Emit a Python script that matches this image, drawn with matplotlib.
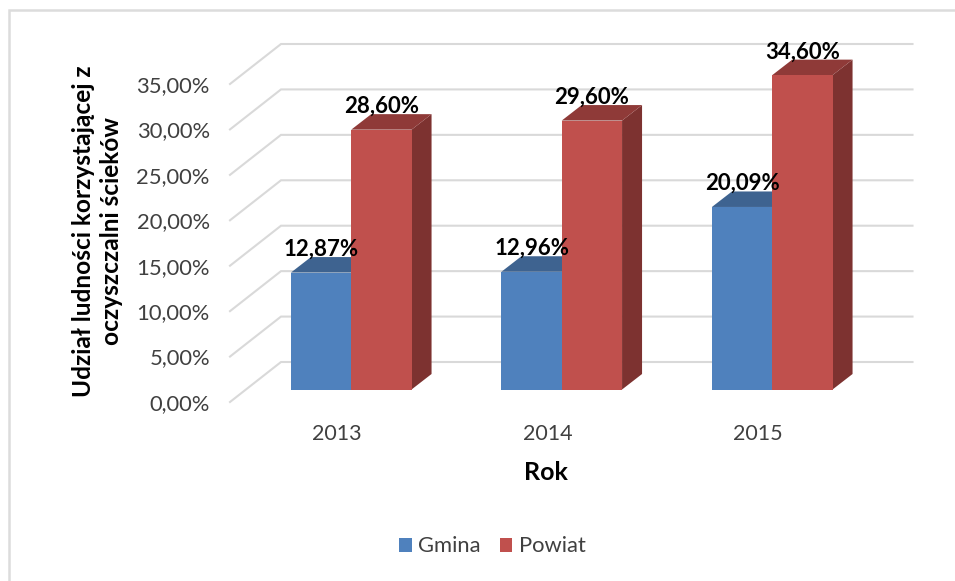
import matplotlib
matplotlib.use("Agg")
import matplotlib.pyplot as plt
from matplotlib.lines import Line2D
from matplotlib.patches import Polygon, Patch
from matplotlib.transforms import ScaledTranslation

years = ["2013", "2014", "2015"]
gmina = [12.87, 12.96, 20.09]
powiat = [28.60, 29.60, 34.60]
gmina_labels = ["12,87%", "12,96%", "20,09%"]
powiat_labels = ["28,60%", "29,60%", "34,60%"]
y_ticks = [0, 5, 10, 15, 20, 25, 30, 35]
y_tick_labels = ["0,00%", "5,00%", "10,00%", "15,00%", "20,00%", "25,00%", "30,00%", "35,00%"]

W, H = 955, 581
plt.rcParams["font.family"] = ["Lato", "DejaVu Sans"]
fig = plt.figure(figsize=(W / 100, H / 100), dpi=100, facecolor="white")

# axes = front plane of the 3D box (pixels)
L, R, B, T = 230.0, 861.5, 402.0, 84.0
ax = fig.add_axes([L / W, 1 - B / H, (R - L) / W, (B - T) / H])
ax.set_xlim(-0.5, 2.5)
ax.set_ylim(0, 35)
ax.patch.set_alpha(0)
for s in ax.spines.values():
    s.set_visible(False)

px_x = 3 / (R - L)      # data units per pixel
px_y = 35 / (B - T)

GRID = "#D9D9D9"
wall_dx, wall_dy = 51 * px_x, 40 * px_y
plane_dx, plane_dy = 16 * px_x, 12.5 * px_y
depth_dx, depth_dy = 20 * px_x, 15.5 * px_y
bar_w = 60.3 * px_x

# walls
for v in y_ticks:
    ax.plot([-0.5, -0.5 + wall_dx, 2.5 + wall_dx], [v, v + wall_dy, v + wall_dy],
            color=GRID, lw=1.5, clip_on=False, zorder=1, solid_joinstyle="miter")


def draw_bars(vals, offset, face, top, side, z):
    xs = [i + offset + plane_dx for i in range(len(vals))]
    ax.bar(xs, vals, width=bar_w, bottom=plane_dy, color=face, align="center",
           clip_on=False, zorder=z + 0.2, linewidth=0)
    for x, v in zip(xs, vals):
        xl, xr = x - bar_w / 2, x + bar_w / 2
        yb, yt = plane_dy, plane_dy + v
        ax.add_patch(Polygon([(xr, yb), (xr + depth_dx, yb + depth_dy),
                              (xr + depth_dx, yt + depth_dy), (xr, yt)],
                             closed=True, fc=side, ec="none", clip_on=False, zorder=z))
        ax.add_patch(Polygon([(xl, yt), (xl + depth_dx, yt + depth_dy),
                              (xr + depth_dx, yt + depth_dy), (xr, yt)],
                             closed=True, fc=top, ec="none", clip_on=False, zorder=z + 0.1))
    return xs


xs_g = draw_bars(gmina, -bar_w / 2, "#4F81BD", "#3E6390", "#34547A", 2)
xs_p = draw_bars(powiat, bar_w / 2, "#C0504D", "#8F3A38", "#7D3230", 3)

for xs, vals, labs in ((xs_g, gmina, gmina_labels), (xs_p, powiat, powiat_labels)):
    for x, v, t in zip(xs, vals, labs):
        ax.annotate(t, (x, v + plane_dy), xytext=(0, 16.8), textcoords="offset points",
                    ha="center", va="center", fontsize=16, fontweight="bold",
                    color="black", zorder=6, annotation_clip=False)

ax.set_yticks(y_ticks, y_tick_labels)
ax.set_xticks(range(3), years)
ax.tick_params(axis="y", length=0, pad=14.5, labelsize=15.8, labelcolor="#404040")
ax.tick_params(axis="x", length=0, pad=15.5, labelsize=15.5, labelcolor="#404040")
shift = ScaledTranslation(2 / 100, 0, fig.dpi_scale_trans)
for lab in ax.get_xticklabels():
    lab.set_transform(lab.get_transform() + shift)

ax.set_xlabel("Rok", fontsize=18, fontweight="bold", color="black")
ax.xaxis.set_label_coords((545.8 - L) / (R - L), (B - 472) / (B - T), transform=ax.transAxes)
ax.xaxis.label.set_va("center")

ax.set_ylabel("Udział ludności korzystającej z\noczyszczalni ścieków", fontsize=17.6,
              fontweight="bold", color="black", linespacing=1.25, ha="center", va="center")
ax.yaxis.set_label_coords((97.5 - L) / (R - L), (B - 231) / (B - T), transform=ax.transAxes)

# legend
handles = [Patch(fc="#4F81BD", ec="none", label="Gmina"), Patch(fc="#C0504D", ec="none", label="Powiat")]
fig.legend(handles=handles, ncol=2, loc="center", bbox_to_anchor=(492.5 / W, 1 - 546.5 / H),
           frameon=False, fontsize=15.8, labelcolor="#404040", handlelength=0.58, handleheight=0.58,
           handletextpad=0.3, columnspacing=0.85, borderpad=0)

# outer frame of the picture
fig.add_artist(Line2D([8.5 / W, 8.5 / W, 1], [0, 1 - 9.5 / H, 1 - 9.5 / H], color="#DCDCDC", lw=1.8,
                      transform=fig.transFigure, solid_joinstyle="miter"))

fig.savefig("out.png", dpi=100, facecolor="white")
